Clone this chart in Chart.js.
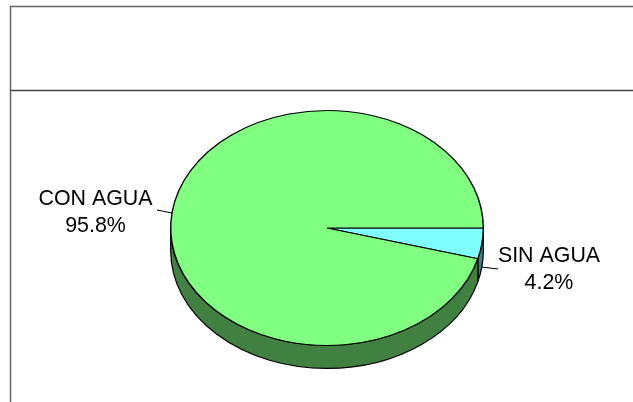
<!DOCTYPE html>
<html>
<head>
<meta charset="utf-8">
<title>Agua</title>
<script src="https://cdn.jsdelivr.net/npm/chart.js@4/dist/chart.umd.min.js"></script>
<style>
  html, body { margin: 0; padding: 0; background: #fff; overflow: hidden; }
  canvas { display: block; }
</style>
</head>
<body>
<canvas id="chart" width="633" height="402"></canvas>
<script>
const categories = ['SIN AGUA', 'CON AGUA'];
const values = [4.2, 95.8];
const topColors = ['#80FFFF', '#80FF80'];
const sideColors = ['#408080', '#408040'];

// tilt of the fake 3d pie
const squash = 118 / 157;
const depth = 23;

// where each label sits, and its leader line
const labelSpots = [
  { x: 549, y: 256, line: [481, 267, 498, 269] },
  { x: 95.5, y: 199, line: [157, 210, 172, 213] }
];

const pie3d = {
  id: 'pie3d',
  beforeDatasetsDraw(chart) {
    const ctx = chart.ctx;
    const arcs = chart.getDatasetMeta(0).data;

    // frame left over from the original chart box
    ctx.save();
    ctx.strokeStyle = '#666';
    ctx.lineWidth = 1.5;
    ctx.beginPath();
    ctx.moveTo(633, 6.5);
    ctx.lineTo(10.5, 6.5);
    ctx.lineTo(10.5, 402);
    ctx.stroke();
    ctx.strokeStyle = '#444';
    ctx.beginPath();
    ctx.moveTo(10.5, 90.5);
    ctx.lineTo(633, 90.5);
    ctx.stroke();
    ctx.restore();

    // side wall, only the front half of the pie shows it
    arcs.forEach((arc, i) => {
      const { x, y, startAngle, endAngle, outerRadius } = arc.getProps(['x', 'y', 'startAngle', 'endAngle', 'outerRadius']);
      const a0 = Math.max(startAngle, 0);
      const a1 = Math.min(endAngle, Math.PI);
      if (a1 <= a0) return;
      const ry = outerRadius * squash;
      ctx.save();
      ctx.beginPath();
      ctx.ellipse(x, y, outerRadius, ry, 0, a0, a1);
      ctx.ellipse(x, y + depth, outerRadius, ry, 0, a1, a0, true);
      ctx.closePath();
      ctx.fillStyle = sideColors[i];
      ctx.strokeStyle = '#000';
      ctx.lineWidth = 1.2;
      ctx.fill();
      ctx.stroke();
      ctx.restore();
    });

    // squash the top face into an ellipse
    const cy = arcs[0].y;
    ctx.save();
    ctx.translate(0, cy);
    ctx.scale(1, squash);
    ctx.translate(0, -cy);
  },
  afterDatasetsDraw(chart) {
    const ctx = chart.ctx;
    ctx.restore();

    ctx.save();
    ctx.fillStyle = '#000';
    ctx.strokeStyle = '#000';
    ctx.lineWidth = 1;
    ctx.font = '21.4px "Liberation Sans", Arial, sans-serif';
    ctx.textAlign = 'center';
    ctx.textBaseline = 'middle';
    categories.forEach((name, i) => {
      const spot = labelSpots[i];
      ctx.fillText(name, spot.x, spot.y);
      ctx.fillText(values[i].toFixed(1) + '%', spot.x, spot.y + 27);
      ctx.beginPath();
      ctx.moveTo(spot.line[0], spot.line[1]);
      ctx.lineTo(spot.line[2], spot.line[3]);
      ctx.stroke();
    });
    ctx.restore();
  }
};

new Chart(document.getElementById('chart'), {
  type: 'pie',
  data: {
    labels: categories,
    datasets: [{
      data: values,
      backgroundColor: topColors,
      borderColor: '#000',
      borderWidth: 1.4,
      borderAlign: 'center'
    }]
  },
  options: {
    responsive: false,
    animation: false,
    devicePixelRatio: 1,
    rotation: 90,
    layout: { padding: { left: 170, right: 149, top: 71, bottom: 17 } },
    plugins: {
      legend: { display: false },
      title: { display: false },
      tooltip: { enabled: false }
    }
  },
  plugins: [pie3d]
});
</script>
</body>
</html>
